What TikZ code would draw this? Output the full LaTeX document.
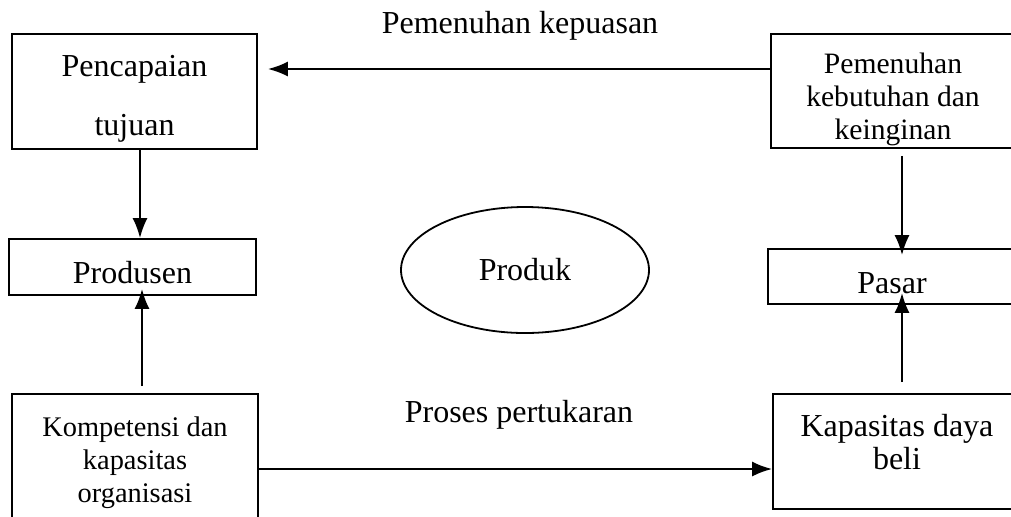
\documentclass[tikz,border=0pt]{standalone}
\usepackage{fontspec}
\setmainfont{Liberation Serif}
\usetikzlibrary{shapes.geometric,arrows.meta}
\newcommand{\down}[1]{\rule{0pt}{#1}}
\tikzset{
	box/.style={draw, line width=0.8pt, inner sep=0pt, align=center},
	arr/.style={-{Latex[length=10pt,width=7.5pt]}, line width=1.2pt},
	lbl/.style={font=\fontsize{16}{19}\selectfont, anchor=base},
}
\begin{document}
\begin{tikzpicture}[x=0.5pt,y=-0.5pt]
	\useasboundingbox (0,0) rectangle (1011,516);
	% left column
	\node[box, minimum width=122.5pt, minimum height=57.5pt, font=\fontsize{16}{29.5}\selectfont] (tujuan) at (134.5,91.5) {\down{18pt}Pencapaian\\tujuan};
	\node[box, minimum width=123.5pt, minimum height=28pt, font=\fontsize{16}{19}\selectfont] (produsen) at (132.5,267) {\down{17pt}Produsen};
	\node[box, minimum width=123pt, minimum height=64pt, font=\fontsize{14.2}{16.5}\selectfont] (kompetensi) at (135,458) {\down{15pt}Kompetensi dan\\kapasitas\\organisasi};
	% right column
	\node[box, minimum width=122pt, minimum height=57pt, font=\fontsize{14.8}{16.5}\selectfont] (kebutuhan) at (893,91) {\down{18.5pt}Pemenuhan\\kebutuhan dan\\keinginan};
	\node[box, minimum width=124pt, minimum height=27.5pt, font=\fontsize{16}{19}\selectfont] (pasar) at (892,276.5) {\down{17pt}Pasar};
	\node[box, minimum width=124pt, minimum height=57.5pt, font=\fontsize{16}{16.5}\selectfont] (daya) at (897,451.5) {Kapasitas daya\\beli\rule[-10pt]{0pt}{10pt}};
	% middle
	\node[draw, ellipse, line width=0.9pt, inner sep=0pt, minimum width=124pt, minimum height=63pt, font=\fontsize{16}{19}\selectfont] (produk) at (525,270) {Produk};
	\node[lbl] (kepuasan) at (520,33) {Pemenuhan kepuasan};
	\node[lbl] (pertukaran) at (519,422) {Proses pertukaran};
	% connectors
	\draw[arr] ([yshift=11pt]kebutuhan.west) -- ([xshift=5pt,yshift=11.25pt]tujuan.east);
	\draw[arr] ([xshift=2.75pt]tujuan.south) -- ([xshift=2.75pt]tujuan.south |- produsen.north);
	\draw[arr] ([xshift=3.5pt,yshift=3.5pt]kompetensi.north) -- ([xshift=3.5pt,yshift=3.5pt]kompetensi.north |- produsen.south);
	\draw[arr] ([xshift=4.5pt,yshift=-3.5pt]kebutuhan.south) -- ([xshift=4.5pt,yshift=-3.5pt]kebutuhan.south |- pasar.north);
	\draw[arr] ([xshift=2.5pt,yshift=5.5pt]daya.north) -- ([xshift=2.5pt,yshift=6pt]daya.north |- pasar.south);
	\draw[arr] ([yshift=-5.5pt]kompetensi.east) -- ([yshift=-5.5pt]kompetensi.east -| daya.west);
\end{tikzpicture}
\end{document}
